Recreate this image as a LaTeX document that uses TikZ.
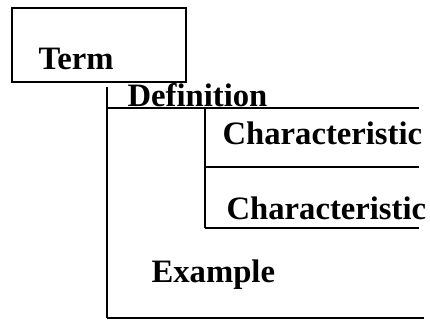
\documentclass[tikz,border=0pt]{standalone}
\usepackage{fontspec}
\setmainfont{Liberation Serif}
\begin{document}
\begin{tikzpicture}[x=0.75pt, y=-0.75pt, line width=0.9pt,
  lbl/.style={anchor=base west, inner sep=0pt, font=\bfseries\fontsize{24.5}{29}\selectfont}]
\useasboundingbox (0,0) rectangle (430,320);
% Term
\draw (12,8) rectangle (186,82);
\node[lbl] (term) at (38,70) {Term};
% Definition
\draw (107,87) -- (107,318);
\draw (107,108) -- (419,108);
\node[lbl] (def) at (127,107) {Definition};
% Characteristics
\draw (205,108) -- (205,228);
\draw (205,167) -- (419,167);
\draw (205,228) -- (419,228);
\node[lbl] (char1) at (222,145) {Characteristic};
\node[lbl] (char2) at (226,220) {Characteristic};
% Example
\node[lbl] (ex) at (151,283) {Example};
\draw (107,318) -- (424,318);
\end{tikzpicture}
\end{document}
